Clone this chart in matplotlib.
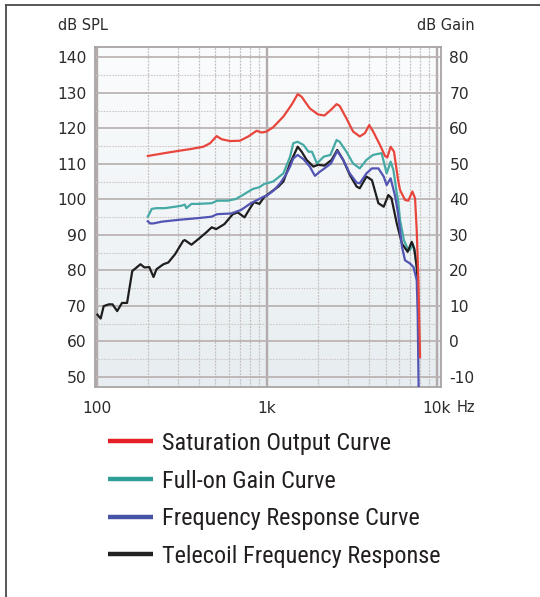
import numpy as np
import matplotlib
matplotlib.use("Agg")
import matplotlib.pyplot as plt
from matplotlib.lines import Line2D
from matplotlib.colors import LinearSegmentedColormap
from matplotlib.font_manager import FontProperties

plt.rcParams["axes.unicode_minus"] = False

# ---------------- data ----------------
sat_freq = [200, 258, 309, 362, 424, 465, 508, 544, 609, 696, 780, 873, 935, 1000,
            1092, 1254, 1400, 1522, 1605, 1793, 2005, 2187, 2389, 2576, 2688, 2944,
            3221, 3527, 3778, 4010, 4228, 4636, 4966, 5125, 5358, 5610, 5925, 6087,
            6512, 6814, 7194, 7457, 7630, 7805, 7983]
sat_spl = [112.2, 113.1, 113.7, 114.2, 114.8, 115.8, 117.8, 116.9, 116.4, 116.5,
           117.7, 119.3, 118.8, 119.1, 120.3, 123.3, 126.6, 129.6, 128.9, 125.6,
           123.9, 123.6, 125.2, 126.8, 126.3, 122.8, 119.1, 117.7, 118.6, 120.9,
           119.1, 115.3, 112.2, 111.8, 114.8, 113.4, 105.5, 102.6, 99.8, 99.6,
           102.2, 100.3, 91.3, 77.2, 55.5]

gain_freq = [200, 211, 225, 252, 289, 316, 330, 337, 361, 396, 475, 511, 591, 661,
             741, 828, 906, 966, 1092, 1254, 1373, 1434, 1522, 1646, 1763, 1846,
             1977, 2165, 2372, 2576, 2688, 2944, 3221, 3527, 3864, 4228, 4742, 5078,
             5358, 5560, 5824, 5925, 6087, 6412, 6747, 6969, 7227, 7457, 7630, 7737]
gain_spl = [95.1, 97.3, 97.5, 97.5, 97.9, 98.2, 98.5, 97.5, 98.7, 98.7, 98.9, 99.6,
            99.6, 100.1, 101.5, 102.9, 103.4, 104.3, 105.0, 107.3, 112.0, 115.8,
            116.2, 115.3, 113.4, 113.4, 110.1, 112.0, 112.5, 116.7, 116.2, 113.4,
            110.1, 108.7, 111.1, 112.5, 113.0, 107.3, 110.6, 108.3, 101.7, 99.8,
            94.2, 88.5, 86.1, 85.7, 87.5, 84.7, 80.9, 77.2]

freq_freq = [200, 206, 216, 242, 303, 396, 475, 511, 618, 707, 808, 881, 966, 1000,
             1100, 1200, 1300, 1373, 1434, 1522, 1646, 1793, 1922, 2059, 2187, 2389,
             2600, 2818, 3080, 3380, 3527, 3864, 4160, 4540, 4880, 5078, 5358, 5700,
             5925, 6250, 6512, 6969, 7300, 7630, 7730, 7830]
freq_spl = [93.8, 93.2, 93.2, 93.7, 94.2, 94.7, 95.1, 95.8, 96.0, 97.0, 98.9, 99.8,
            100.8, 101.0, 102.5, 104.5, 107.0, 109.2, 111.5, 112.5, 111.3, 109.2,
            106.6, 107.8, 108.7, 110.1, 113.6, 111.1, 107.3, 104.7, 104.5, 107.3,
            108.7, 108.7, 106.4, 104.0, 105.9, 100.8, 96.0, 86.6, 82.8, 81.9, 80.9,
            77.2, 67.7, 47.0]

tele_freq = [101, 105.6, 110, 118, 124, 132, 141, 151, 162, 170, 181, 191, 204, 216,
             225, 247, 264, 289, 323, 330, 361, 404, 442, 475, 505, 564, 632, 676,
             741, 794, 842, 906, 966, 1174, 1254, 1373, 1522, 1607, 1717, 1882, 2005,
             2187, 2410, 2600, 2818, 3080, 3380, 3527, 3864, 4160, 4540, 4880, 5196,
             5420, 5824, 6250, 6747, 7130, 7380, 7630, 7750]
tele_spl = [67.5, 66.4, 69.9, 70.4, 70.4, 68.5, 70.8, 70.8, 79.8, 80.6, 81.7, 80.8,
            80.9, 78.1, 80.3, 81.7, 82.2, 84.5, 88.3, 88.5, 87.2, 89.1, 90.7, 92.1,
            91.6, 93.0, 95.8, 96.3, 94.9, 97.3, 99.2, 98.7, 100.6, 103.6, 105.0,
            110.1, 114.8, 113.4, 111.1, 109.2, 109.7, 109.5, 111.1, 113.9, 111.1,
            106.9, 103.6, 103.1, 106.4, 105.4, 98.9, 97.9, 101.2, 100.3, 93.2, 87.5,
            85.2, 88.0, 86.1, 80.9, 75.0]

x_ticks = [100, 1000, 10000]
x_labels = ["100", "1k", "10k"]
left_ticks = list(range(50, 141, 10))
right_ticks = list(range(-10, 81, 10))
gain_offset = 60

series_labels = ["Saturation Output Curve", "Full-on Gain Curve",
                 "Frequency Response Curve", "Telecoil Frequency Response"]
series_colors = ["#e8463c", "#45aaa5", "#5254b4", "#1e1e1e"]
legend_colors = ["#e32026", "#2e9e96", "#4553a6", "#222222"]

# ---------------- figure ----------------
W, H = 540, 597
fig = plt.figure(figsize=(W / 100, H / 100), dpi=100)
fig.patch.set_facecolor("white")

ax_l, ax_r, ax_t, ax_b = 95, 441, 47, 386.7
ax = fig.add_axes([ax_l / W, 1 - ax_b / H, (ax_r - ax_l) / W, (ax_b - ax_t) / H])
ax.set_xscale("log")

# background gradient
cmap = LinearSegmentedColormap.from_list("bg", ["#fbfcfd", "#f1f5f7", "#e7edf0"])
grad = np.linspace(0, 1, 256).reshape(-1, 1)
ax.imshow(grad, extent=[0, 1, 0, 1], transform=ax.transAxes, aspect="auto",
          cmap=cmap, zorder=0, interpolation="bicubic")
ax.set_autoscale_on(False)
xlim = (97.8, 10600)
ylim = (47.2, 142.9)
ax.set_xlim(*xlim)
ax.set_ylim(*ylim)

# grid
ax.set_xticks(x_ticks)
ax.set_xticklabels(x_labels)
ax.set_xticks([m * d for d in (100, 1000) for m in range(2, 10)], minor=True)
ax.set_yticks(left_ticks)
ax.set_yticks([v + 5 for v in left_ticks[:-1]], minor=True)
ax.xaxis.set_minor_formatter(matplotlib.ticker.NullFormatter())
ax.grid(which="major", axis="x", color="#b3abab", lw=1.7, zorder=1)
ax.grid(which="minor", axis="x", color="#c4c0c0", lw=0.9, ls=(0, (1.5, 1)), zorder=1)
ax.grid(which="major", axis="y", color="#bcb4b4", lw=1.3, zorder=1)
ax.grid(which="minor", axis="y", color="#cfcaca", lw=0.8, ls=(0, (1.5, 1)), zorder=1)
ax.set_axisbelow(True)

for s in ax.spines.values():
    s.set_color("#a9a4a4")
    s.set_linewidth(1.3)

ax.tick_params(which="both", length=0)
ax.tick_params(axis="y", pad=6, colors="#2b2b2b", labelsize=11.2)
ax.tick_params(axis="x", pad=10, colors="#2b2b2b", labelsize=11.2)

# curves
for fx, sy, c, z in [(gain_freq, gain_spl, series_colors[1], 3),
                     (tele_freq, tele_spl, series_colors[3], 4),
                     (freq_freq, freq_spl, series_colors[2], 5),
                     (sat_freq, sat_spl, series_colors[0], 6)]:
    ax.plot(fx, sy, color=c, lw=1.6, zorder=z, solid_joinstyle="round")

# right axis
ax2 = ax.twinx()
ax2.set_ylim(ylim[0] - gain_offset, ylim[1] - gain_offset)
ax2.set_yticks(right_ticks)
ax2.tick_params(length=0, pad=6, colors="#2b2b2b", labelsize=11.2)
for s in ax2.spines.values():
    s.set_visible(False)

# axis titles
fig.text(58 / W, 1 - 25 / H, "dB SPL", ha="left", va="center", fontsize=10.5, color="#2b2b2b")
fig.text(475 / W, 1 - 25 / H, "dB Gain", ha="right", va="center", fontsize=10.5, color="#2b2b2b")
fig.text(457 / W, 1 - 407 / H, "Hz", ha="left", va="center", fontsize=10.5, color="#2b2b2b")

# legend
legend_font = FontProperties(family=["Roboto Condensed", "Open Sans Condensed",
                                     "Liberation Sans Narrow", "DejaVu Sans"],
                             stretch="condensed", size=17.5)
handles = [Line2D([], [], color=c, lw=3.2, solid_capstyle="butt") for c in legend_colors]
leg = fig.legend(handles, series_labels, loc="upper left",
                 bbox_to_anchor=(108 / W, 1 - 432 / H), frameon=False,
                 prop=legend_font,
                 handlelength=1.85, handletextpad=0.37, labelspacing=0.6,
                 borderpad=0, borderaxespad=0)
for t in leg.get_texts():
    t.set_color("#231f20")

# figure border (left and top)
fig.add_artist(Line2D([5.5 / W, 5.5 / W], [0, 1 - 5 / H], color="#4a4a4a", lw=1.3,
                      transform=fig.transFigure))
fig.add_artist(Line2D([5.5 / W, 1], [1 - 5 / H, 1 - 5 / H], color="#4a4a4a", lw=1.3,
                      transform=fig.transFigure))

fig.savefig("out.png", dpi=100)
